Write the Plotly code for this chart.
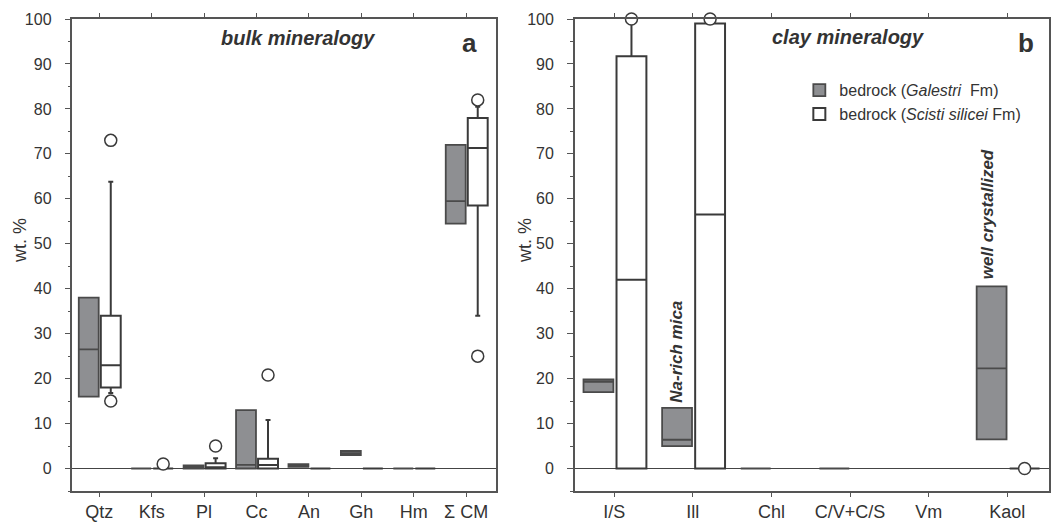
import plotly.graph_objects as go

# ---------------- data ----------------
cats_a = ["Qtz", "Kfs", "Pl", "Cc", "An", "Gh", "Hm", "Σ CM"]
# bedrock (Galestri Fm) - bulk
gal_a_low = [16.0, 0.0, 0.0, 0.0, 0.4, 3.0, 0.0, 54.5]
gal_a_q1 = [16.0, 0.0, 0.0, 0.0, 0.4, 3.0, 0.0, 54.5]
gal_a_med = [26.5, 0.0, 0.3, 0.8, 0.7, 3.4, 0.0, 59.5]
gal_a_q3 = [38.0, 0.0, 0.7, 13.0, 1.0, 3.9, 0.0, 72.0]
gal_a_up = [38.0, 0.0, 0.7, 13.0, 1.0, 3.9, 0.0, 72.0]
# bedrock (Scisti silicei Fm) - bulk
sci_a_low = [16.8, 0.0, 0.0, 0.0, 0.0, 0.0, 0.0, 34.0]
sci_a_q1 = [18.0, 0.0, 0.0, 0.0, 0.0, 0.0, 0.0, 58.5]
sci_a_med = [23.0, 0.0, 0.3, 0.8, 0.0, 0.0, 0.0, 71.3]
sci_a_q3 = [34.0, 0.0, 1.2, 2.2, 0.0, 0.0, 0.0, 78.0]
sci_a_up = [63.8, 0.0, 2.3, 10.8, 0.0, 0.0, 0.0, 80.5]
sci_a_out_cat = ["Qtz", "Qtz", "Kfs", "Pl", "Cc", "Σ CM", "Σ CM"]
sci_a_out_val = [73.0, 15.0, 1.0, 5.0, 20.8, 82.0, 25.0]

cats_b = ["I/S", "Ill", "Chl", "C/V+C/S", "Vm", "Kaol"]
# bedrock (Galestri Fm) - clay
gal_b_q1 = [17.0, 5.0, 0.0, 0.0, None, 6.5]
gal_b_med = [19.3, 6.4, 0.0, 0.0, None, 22.3]
gal_b_q3 = [19.8, 13.5, 0.0, 0.0, None, 40.5]
# bedrock (Scisti silicei Fm) - clay
sci_b_low = [0.0, 0.0, None, None, None, 0.0]
sci_b_q1 = [0.0, 0.0, None, None, None, 0.0]
sci_b_med = [42.0, 56.5, None, None, None, 0.0]
sci_b_q3 = [91.7, 99.0, None, None, None, 0.0]
sci_b_up = [100.0, 99.0, None, None, None, 0.0]
sci_b_out_cat = ["I/S", "Ill", "Kaol"]
sci_b_out_val = [100.0, 100.0, 0.0]

# ---------------- style ----------------
FONT = "Arial, Liberation Sans, sans-serif"
TXT = "#333333"
AX = "#555555"
GRAY_FILL = "#8e8f92"
GRAY_LINE = "#4a4a4a"
WHITE_LINE = "#3a3a3a"
OFF_G, OFF_W, BW = -0.20, 0.22, 0.38

fig = go.Figure()


def add_box(cats, q1, med, q3, low, up, off, fill, line, lw, name, xa, ya, show):
    xs, a, b, c, d, e = [], [], [], [], [], []
    for i, _ in enumerate(cats):
        if q1[i] is None:
            continue
        xs.append(i + off)
        a.append(q1[i]); b.append(med[i]); c.append(q3[i])
        d.append(low[i] if low is not None else q1[i])
        e.append(up[i] if up is not None else q3[i])
    fig.add_trace(go.Box(
        x=xs, q1=a, median=b, q3=c, lowerfence=d, upperfence=e,
        width=BW, whiskerwidth=0.25, boxpoints=False,
        fillcolor=fill, line=dict(color=line, width=lw),
        name=name, legendgroup=name, showlegend=show,
        xaxis=xa, yaxis=ya, hoverinfo="skip"))


def add_out(cats, oc, ov, off, xa, ya):
    fig.add_trace(go.Scatter(
        x=[cats.index(c) + off for c in oc], y=ov, mode="markers",
        marker=dict(size=12, color="white", line=dict(color=WHITE_LINE, width=1.5)),
        cliponaxis=False, showlegend=False, xaxis=xa, yaxis=ya, hoverinfo="skip"))


G_NAME = "bedrock (<i>Galestri</i>  Fm)"
S_NAME = "bedrock (<i>Scisti silicei</i> Fm)"

add_box(cats_a, gal_a_q1, gal_a_med, gal_a_q3, gal_a_low, gal_a_up, OFF_G,
        GRAY_FILL, GRAY_LINE, 1.8, G_NAME, "x", "y", True)
add_box(cats_a, sci_a_q1, sci_a_med, sci_a_q3, sci_a_low, sci_a_up, OFF_W,
        "white", WHITE_LINE, 2.0, S_NAME, "x", "y", True)
add_out(cats_a, sci_a_out_cat, sci_a_out_val, OFF_W, "x", "y")

add_box(cats_b, gal_b_q1, gal_b_med, gal_b_q3, None, None, OFF_G,
        GRAY_FILL, GRAY_LINE, 1.8, G_NAME, "x2", "y2", False)
add_box(cats_b, sci_b_q1, sci_b_med, sci_b_q3, sci_b_low, sci_b_up, OFF_W,
        "white", WHITE_LINE, 2.0, S_NAME, "x2", "y2", False)
add_out(cats_b, sci_b_out_cat, sci_b_out_val, OFF_W, "x2", "y2")

xcommon = dict(showline=True, linecolor=AX, linewidth=1.5, mirror="ticks",
               ticks="outside", ticklen=4, tickcolor=AX, tickwidth=1.2,
               showgrid=False, zeroline=False,
               tickfont=dict(family=FONT, size=18, color=TXT))
ycommon = dict(range=[-5, 100], showline=True, linecolor=AX, linewidth=1.5,
               mirror=True, ticks="outside", ticklen=6, tickcolor=AX,
               tickwidth=1.2, tickvals=list(range(0, 101, 10)),
               showgrid=False, zeroline=True, zerolinecolor="#444444",
               zerolinewidth=1.2, ticklabelstandoff=10,
               minor=dict(ticks="outside", ticklen=3, dtick=5, tick0=0,
                          tickcolor=AX, showgrid=False),
               tickfont=dict(family=FONT, size=16, color=TXT))

fig.update_layout(
    width=1051, height=522,
    margin=dict(l=0, r=0, t=19, b=29),
    paper_bgcolor="white", plot_bgcolor="white",
    xaxis=dict(domain=[0.0691, 0.4729], range=[-0.51, 7.57],
               tickvals=list(range(len(cats_a))), ticktext=cats_a, **xcommon),
    xaxis2=dict(domain=[0.548, 1.0], range=[-0.5, 5.53], anchor="y2",
                tickvals=list(range(len(cats_b))), ticktext=cats_b, **xcommon),
    yaxis=dict(anchor="x", **ycommon),
    yaxis2=dict(anchor="x2", **ycommon),
    legend=dict(x=0.762, y=0.885, xanchor="left", yanchor="top",
                font=dict(family=FONT, size=16, color=TXT),
                bgcolor="rgba(0,0,0,0)", tracegroupgap=0, itemwidth=30),
    showlegend=True,
)

ann = [
    dict(text="<b><i>bulk mineralogy</i></b>", x=3.8, y=95.8, xref="x", yref="y", size=20, angle=0),
    dict(text="<b>a</b>", x=7.07, y=94.7, xref="x", yref="y", size=26, angle=0),
    dict(text="<b><i>clay mineralogy</i></b>", x=2.97, y=96.0, xref="x2", yref="y2", size=20, angle=0),
    dict(text="<b>b</b>", x=5.24, y=94.7, xref="x2", yref="y2", size=26, angle=0),
    dict(text="<b><i>Na-rich mica</i></b>", x=0.8, y=26.0, xref="x2", yref="y2", size=17, angle=-90),
    dict(text="<b><i>well crystallized</i></b>", x=4.75, y=56.5, xref="x2", yref="y2", size=17, angle=-90),
]
for a in ann:
    fig.add_annotation(text=a["text"], x=a["x"], y=a["y"], xref=a["xref"], yref=a["yref"],
                       showarrow=False, textangle=a["angle"],
                       font=dict(family=FONT, size=a["size"], color=TXT))

# y-axis titles ("wt. %") placed in paper coordinates
for xp in (20 / 1051, 526 / 1051):
    fig.add_annotation(text="wt. %", x=xp, y=(493 - 241) / 474, xref="paper", yref="paper",
                       showarrow=False, textangle=-90, xanchor="center", yanchor="middle",
                       font=dict(family=FONT, size=18, color=TXT))

fig.write_html("out.html", config={"displayModeBar": False},
               post_script="document.body.style.margin='0';document.body.style.overflow='hidden';")
